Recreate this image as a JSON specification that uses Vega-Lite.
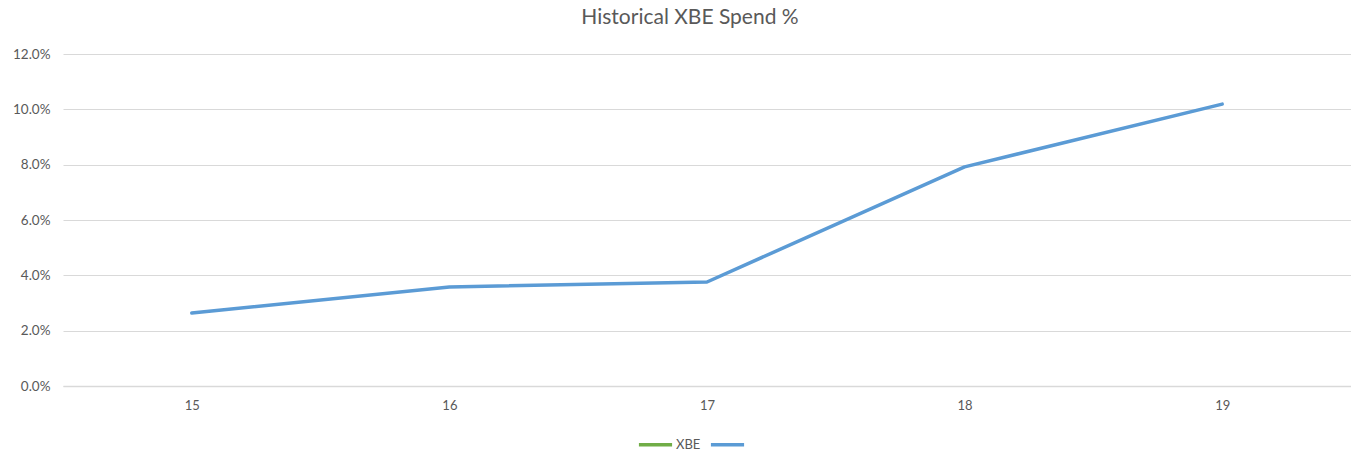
{
  "$schema": "https://vega.github.io/schema/vega-lite/v6.json",
  "width": 1288,
  "height": 332,
  "autosize": {"type": "none"},
  "padding": {"left": 63, "top": 54, "right": 0, "bottom": 66},
  "background": "#ffffff",
  "title": {
    "text": "Historical XBE Spend %",
    "anchor": "middle",
    "dx": -17,
    "offset": 19,
    "font": "Lato",
    "fontSize": 21,
    "fontWeight": "normal",
    "color": "#595959"
  },
  "config": {
    "view": {"stroke": null},
    "font": "Lato"
  },
  "data": {
    "values": [
      {"year": "15", "series": " ", "pct": 0.0264},
      {"year": "16", "series": " ", "pct": 0.0358},
      {"year": "17", "series": " ", "pct": 0.0376},
      {"year": "18", "series": " ", "pct": 0.0792},
      {"year": "19", "series": " ", "pct": 0.1019}
    ]
  },
  "mark": {"type": "line", "strokeWidth": 3.5, "strokeCap": "round", "strokeJoin": "round"},
  "encoding": {
    "x": {
      "field": "year",
      "type": "ordinal",
      "scale": {"type": "point", "padding": 0.5},
      "axis": {
        "title": null,
        "labelAngle": 0,
        "ticks": false,
        "domain": true,
        "domainColor": "#d9d9d9",
        "domainWidth": 1.5,
        "grid": false,
        "labelPadding": 13,
        "labelFontSize": 13,
        "labelColor": "#595959",
        "labelFont": "Lato"
      }
    },
    "y": {
      "field": "pct",
      "type": "quantitative",
      "scale": {"domain": [0, 0.12], "nice": false},
      "axis": {
        "title": null,
        "format": ".1%",
        "values": [0, 0.02, 0.04, 0.06, 0.08, 0.1, 0.12],
        "ticks": false,
        "domain": false,
        "grid": true,
        "gridColor": "#d9d9d9",
        "gridWidth": 1,
        "labelPadding": 13,
        "labelFontSize": 13.5,
        "labelColor": "#595959",
        "labelFont": "Lato"
      }
    },
    "color": {
      "field": "series",
      "type": "nominal",
      "scale": {"domain": ["XBE", " "], "range": ["#70ad47", "#5b9bd5"]},
      "legend": {
        "title": null,
        "orient": "none",
        "legendX": 574,
        "legendY": 372,
        "direction": "horizontal",
        "symbolType": "stroke",
        "symbolSize": 1100,
        "symbolStrokeWidth": 3.5,
        "labelFontSize": 13,
        "labelColor": "#595959",
        "labelFont": "Lato",
        "labelOffset": 2,
        "columnPadding": 2
      }
    }
  }
}
